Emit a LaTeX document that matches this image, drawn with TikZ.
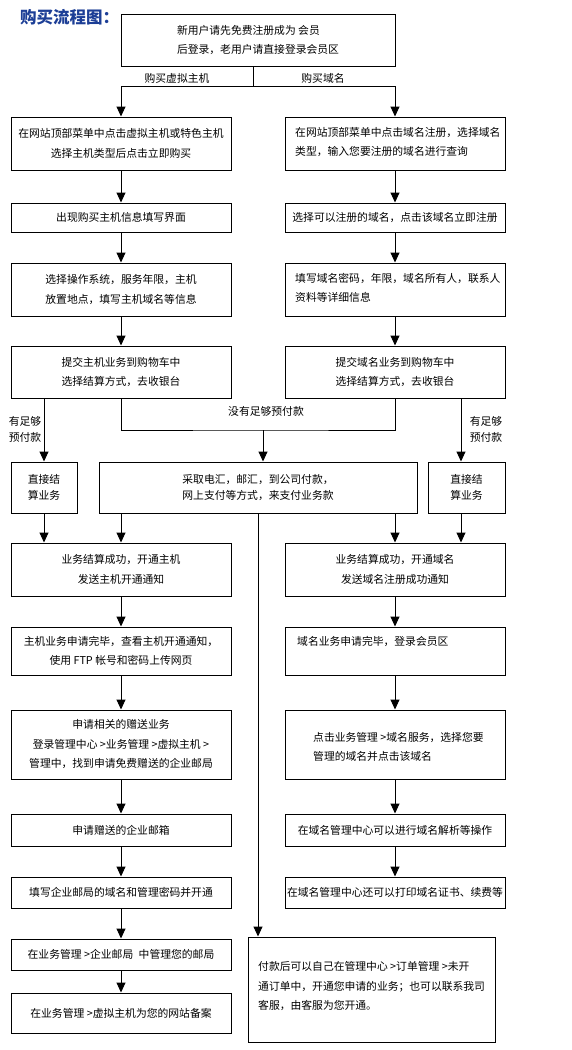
\documentclass[tikz,border=0pt]{standalone}
\usepackage{fontspec}
\setmainfont{Noto Sans CJK SC}
\usetikzlibrary{arrows.meta,calc}
\definecolor{titleblue}{RGB}{28,62,150}
\begin{document}
\begin{tikzpicture}[x=1pt,y=-1pt,
  every node/.style={font=\fontsize{10.8}{19.5}\selectfont},
  box/.style={draw, line width=1pt, inner sep=0pt, align=center},
  lcol/.style={box, minimum width=220pt},
  arr/.style={-{Triangle[width=9pt,length=10pt]}, line width=1pt},
  ln/.style={line width=1pt},
  lbl/.style={inner sep=0pt, align=left},
  tight/.style={font=\fontsize{10.8}{16}\selectfont},
]
\useasboundingbox (0,0) rectangle (572,1050);

\node[anchor=west, inner sep=0pt, font=\fontsize{16.5}{16.5}\selectfont\bfseries, text=titleblue] (title) at (20,17) {购买流程图：};

% top
\node[box, minimum width=274pt, minimum height=52pt, align=left] (top) at (258,40) {新用户请先免费注册成为 会员\\后登录，老用户请直接登录会员区};

% left column
\node[lcol, minimum height=53pt] (l1) at (121,143.5) {在网站顶部菜单中点击虚拟主机或特色主机\\选择主机类型后点击立即购买};
\node[lcol, minimum height=29pt] (l2) at (121,217.5) {出现购买主机信息填写界面};
\node[lcol, minimum height=53pt] (l3) at (121,289.5) {选择操作系统，服务年限，主机\\放置地点，填写主机域名等信息};
\node[lcol, minimum height=52pt] (l4) at (121,372) {提交主机业务到购物车中\\选择结算方式，去收银台};
\node[lcol, minimum height=53pt] (l6) at (121,569.5) {业务结算成功，开通主机\\发送主机开通通知};
\node[lcol, minimum height=48pt] (l7) at (121,651) {主机业务申请完毕，查看主机开通通知，\\使用 FTP 帐号和密码上传网页};
\node[lcol, minimum height=69pt] (l8) at (121,744.5) {申请相关的赠送业务\\登录管理中心 >业务管理 >虚拟主机 >\\管理中，找到申请免费赠送的企业邮局};
\node[lcol, minimum height=32pt] (l9) at (121,830) {申请赠送的企业邮箱};
\node[lcol, minimum height=31pt] (l10) at (121,892.5) {填写企业邮局的域名和管理密码并开通};
\node[lcol, minimum height=31pt] (l11) at (121,954.5) {在业务管理 >企业邮局\enspace 中管理您的邮局};
\node[lcol, minimum height=40pt] (l12) at (121,1013) {在业务管理 >虚拟主机为您的网站备案};

% right column
\node[lcol, minimum height=53pt] (r1) at (395,143.5) {};
\node[lbl, anchor=west] (r1t) at (295,142) {在网站顶部菜单中点击域名注册，选择域名\\类型，输入您要注册的域名进行查询};
\node[lcol, minimum height=29pt] (r2) at (395,217.5) {选择可以注册的域名，点击该域名立即注册};
\node[lcol, minimum height=53pt] (r3) at (395,289.5) {};
\node[lbl, anchor=west] (r3t) at (295,288) {填写域名密码，年限，域名所有人，联系人\\资料等详细信息};
\node[lcol, minimum height=52pt] (r4) at (395,372) {提交域名业务到购物车中\\选择结算方式，去收银台};
\node[lcol, minimum height=53pt] (r6) at (395,569.5) {业务结算成功，开通域名\\发送域名注册成功通知};
\node[lcol, minimum height=48pt] (r7) at (395,651) {};
\node[lbl, anchor=west] (r7t) at (297,641) {域名业务申请完毕，登录会员区};
\node[lcol, minimum height=69pt] (r8) at (395,744.5) {};
\node[lbl, anchor=west] (r8t) at (313,747) {点击业务管理 >域名服务，选择您要\\管理的域名并点击该域名};
\node[lcol, minimum height=32pt] (r9) at (395,830) {在域名管理中心可以进行域名解析等操作};
\node[lcol, minimum height=31pt] (r10) at (395,892.5) {在域名管理中心还可以打印域名证书、续费等};

% row 5
\node[box, tight, minimum width=66pt, minimum height=51pt] (s5l) at (44,487.5) {直接结\\算业务};
\node[box, tight, minimum width=318pt, minimum height=51pt] (m5) at (258,487.5) {采取电汇，邮汇，到公司付款，\\网上支付等方式，来支付业务款};
\node[box, tight, minimum width=77pt, minimum height=51pt] (s5r) at (466.5,487.5) {直接结\\算业务};

% final box
\node[box, minimum width=247pt, minimum height=105pt] (fin) at (371.5,989.5) {};
\node[lbl, anchor=west] (fint) at (258,986.5) {付款后可以自己在管理中心 >订单管理 >未开\\通订单中，开通您申请的业务；也可以联系我司\\客服，由客服为您开通。};

% top split
\coordinate (j1) at (253,86);
\draw[ln] (top.south -| j1) -- (j1);
\draw[arr] (j1) -| (l1);
\draw[arr] (j1) -| (r1);
\node[lbl] (lab1) at (177,78) {购买虚拟主机};
\node[lbl] (lab2) at (323,78) {购买域名};

% columns
\foreach \a/\b in {l1/l2,l2/l3,l3/l4,l6/l7,l7/l8,l8/l9,l9/l10,l10/l11,l11/l12,
                   r1/r2,r2/r3,r3/r4,r6/r7,r7/r8,r8/r9,r9/r10}
  \draw[arr] (\a) -- (\b);

% payment split
\coordinate (xr) at (461,0);
\coordinate (j2) at (263,430);
\draw[arr] (l4.south -| s5l) -- (s5l);
\draw[arr] (r4.south -| xr) -- (s5r.north -| xr);
\draw[ln] (l4.south) |- (j2) -| (r4.south);
\draw[arr] (j2) -- (m5.north -| j2);
\node[lbl] (lab3) at (266,411) {没有足够预付款};
\node[lbl, tight] (lab4) at (25,429) {有足够\\预付款};
\node[lbl, tight] (lab5) at (486,429) {有足够\\预付款};

% to row 6
\draw[arr] (s5l) -- (l6.north -| s5l);
\draw[arr] (m5.south -| l6) -- (l6);
\draw[arr] (m5.south -| r6) -- (r6);
\draw[arr] (s5r.south -| xr) -- (r6.north -| xr);
\draw[arr] (m5) -- (fin.north -| m5);
\end{tikzpicture}
\end{document}
